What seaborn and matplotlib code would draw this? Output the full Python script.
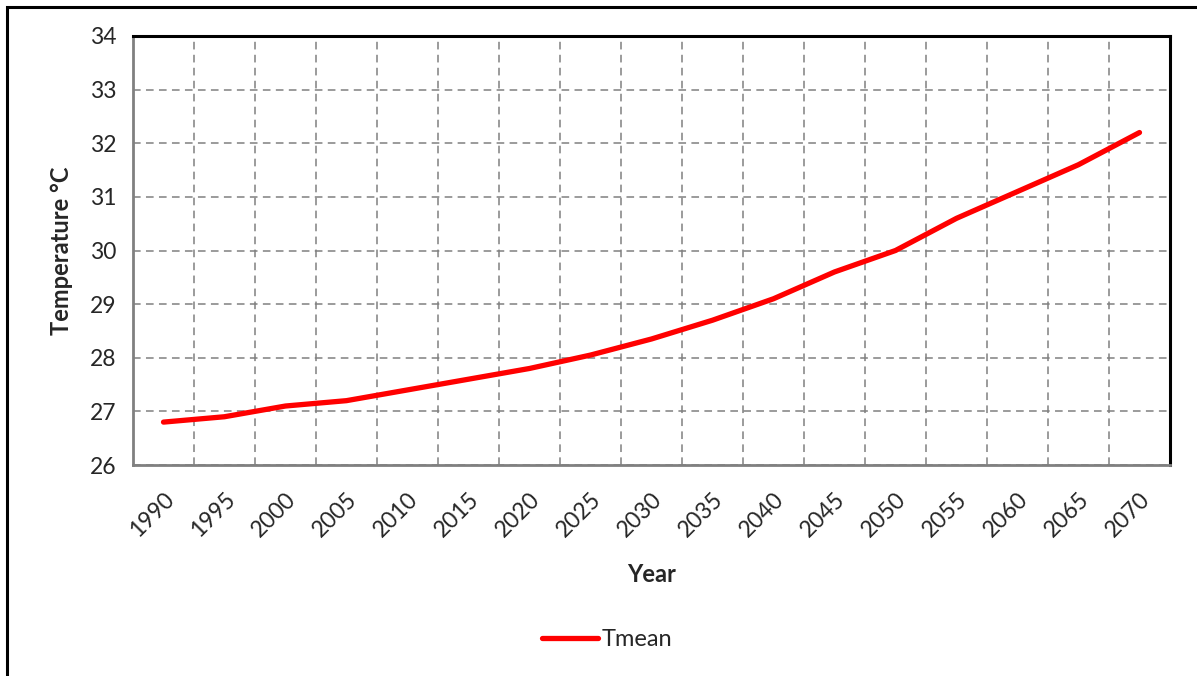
import numpy as np
import pandas as pd
import matplotlib.pyplot as plt
import seaborn as sns
from matplotlib.patches import Rectangle

# data
years = ["1990", "1995", "2000", "2005", "2010", "2015", "2020", "2025", "2030",
         "2035", "2040", "2045", "2050", "2055", "2060", "2065", "2070"]
tmean = [26.8, 26.9, 27.1, 27.2, 27.4, 27.6, 27.8, 28.05, 28.35,
         28.7, 29.1, 29.6, 30.0, 30.6, 31.1, 31.6, 32.2]
yticks = [26, 27, 28, 29, 30, 31, 32, 33, 34]

df = pd.DataFrame({"Year": years, "Tmean": tmean})

sns.set_style("white")
plt.rcParams["font.family"] = ["Lato", "DejaVu Sans"]

fig = plt.figure(figsize=(11.97, 6.76), dpi=100)
ax = fig.add_axes([133 / 1197, 1 - 465 / 676, (1170 - 133) / 1197, (465 - 36) / 676])

sns.lineplot(data=df, x="Year", y="Tmean", ax=ax, color="#ff0000", linewidth=3.8,
             solid_capstyle="round", label="Tmean", sort=False)

n = len(years)
ax.set_xlim(-0.5, n - 0.5)
ax.set_ylim(yticks[0], yticks[-1])
ax.set_yticks(yticks)
ax.set_xticks(np.arange(n + 1) - 0.5)
ax.set_xticklabels([])
ax.set_xticks(np.arange(n), minor=True)
ax.set_xticklabels(years, minor=True, rotation=45, ha="right", va="top",
                   rotation_mode="anchor", fontsize=16.5)
ax.tick_params(axis="x", which="minor", length=0, pad=17)
ax.tick_params(axis="x", which="major", length=6, color="#808080", width=1.2, direction="out")
ax.tick_params(axis="y", length=6, color="#808080", width=1.2, direction="out",
               labelsize=16.5, pad=6)

ax.grid(True, which="major", color="#808080", linestyle=(0, (5, 3.5)), linewidth=1.1)
ax.set_axisbelow(True)

for side in ["left", "bottom"]:
    ax.spines[side].set_color("#808080")
    ax.spines[side].set_linewidth(2)
for side in ["top", "right"]:
    ax.spines[side].set_color("black")
    ax.spines[side].set_linewidth(2.2)
for s in ax.spines.values():
    s.set_visible(True)

ax.set_xlabel("Year", fontsize=17, fontweight="bold", labelpad=16)
ax.set_ylabel("Temperature °C", fontsize=17, fontweight="bold", labelpad=12)

leg = ax.legend(loc="center", bbox_to_anchor=(607 / 1197, 1 - 640 / 676),
                bbox_transform=fig.transFigure, frameon=False, fontsize=17,
                handlelength=2.4, handletextpad=0.15)

# outer chart frame
fig.patches.append(Rectangle((7 / 1197, -0.05), 1.1, 1 - 7 / 676 + 0.05,
                             transform=fig.transFigure, fill=False,
                             edgecolor="black", linewidth=2.2))

fig.savefig("out.png", dpi=100)
